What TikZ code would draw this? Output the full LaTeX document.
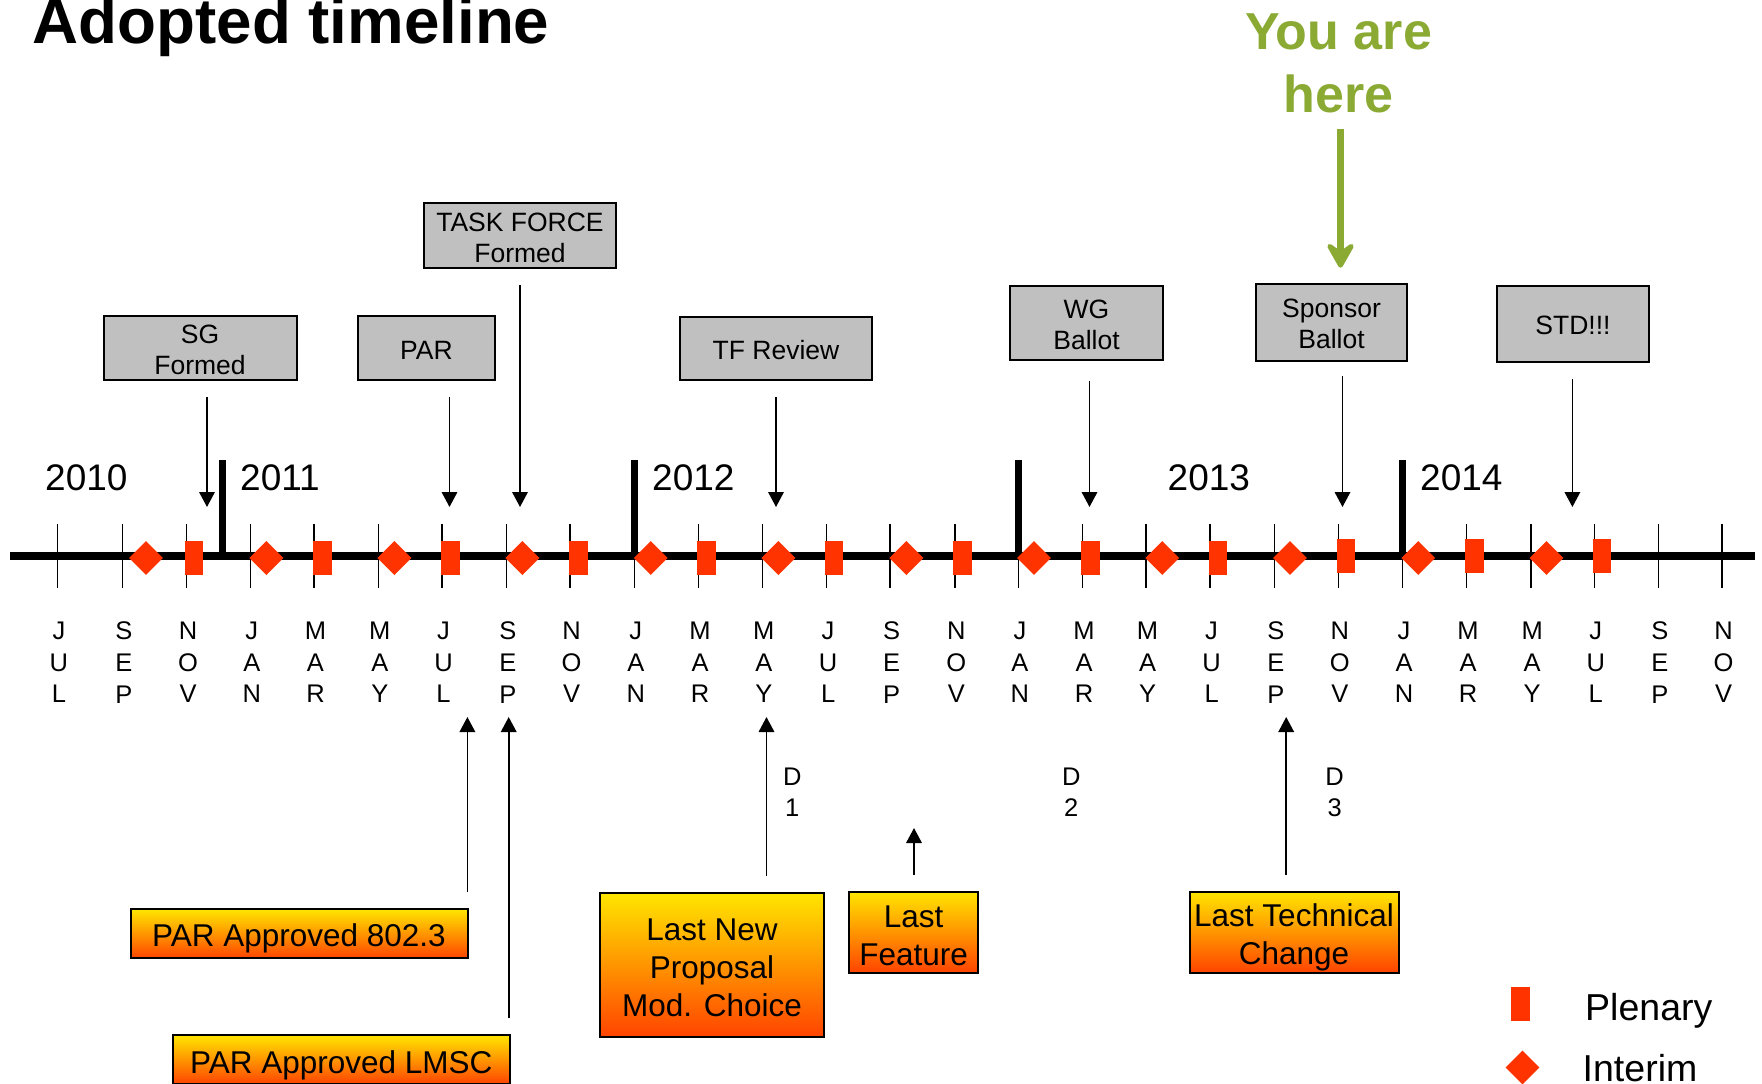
\documentclass[tikz,border=0pt]{standalone}
\usepackage{fontspec}
\setmainfont{Liberation Sans}
\usetikzlibrary{arrows.meta,shapes.geometric,calc}

\definecolor{mtgred}{RGB}{255,51,0}
\definecolor{herecol}{RGB}{138,170,51}
\definecolor{boxgray}{RGB}{192,192,192}
\definecolor{gradtop}{RGB}{255,230,0}
\definecolor{gradmid}{RGB}{255,160,0}
\definecolor{gradbot}{RGB}{255,68,0}

\tikzset{
  mtick/.style={line width=1.6pt},
  yearbar/.style={line width=7pt},
  plenary/.style={fill=mtgred, minimum width=18.5pt, minimum height=34pt, inner sep=0pt},
  interim/.style={diamond, fill=mtgred, minimum width=34pt, minimum height=34pt, inner sep=0pt},
  month/.style={align=center, inner sep=0pt, font=\fontsize{25.5}{31.7}\selectfont},
  yearlbl/.style={anchor=base west, inner sep=0pt, font=\fontsize{37}{44}\selectfont},
  legtext/.style={anchor=base west, inner sep=0pt, font=\fontsize{37.5}{44}\selectfont},
  evbox/.style={draw, line width=2pt, fill=boxgray, inner sep=0pt},
  evtext/.style={align=center, inner sep=0pt, font=\fontsize{26.5}{31.6}\selectfont},
  goalbox/.style={draw, line width=2pt, top color=gradtop, middle color=gradmid, bottom color=gradbot, inner sep=0pt},
  goaltext/.style={align=center, inner sep=0pt, font=\fontsize{31.5}{38.3}\selectfont},
  evarrow/.style={line width=1.8pt, -{Triangle[length=15pt,width=15.5pt]}, shorten <=16pt},
  herearrow/.style={line width=7.6pt, draw=herecol, -{Stealth[length=32pt,width=36pt,inset=13pt,round]}, shorten <=16pt},
}

\begin{document}
\begin{tikzpicture}[x=1pt,y=1pt,yscale=-1,xscale=1]
\useasboundingbox (0,0) rectangle (1762,1084);
\clip (0,0) rectangle (1762,1084);

% Text Node
\node[anchor=base west, inner sep=0pt, font=\fontsize{63.7}{70}\selectfont\bfseries] (title) at (32.5,43.3) {Adopted timeline};

%Main line
\draw[line width=8pt] (10,556.3) -- (1755,556.3);

%Month ticks
\draw[mtick] (57.4,524) -- (57.4,588);
\draw[mtick] (122.3,524) -- (122.3,588);
\draw[mtick] (186.6,524) -- (186.6,588);
\draw[mtick] (250.3,524) -- (250.3,588);
\draw[mtick] (314,524) -- (314,588);
\draw[mtick] (378.3,524) -- (378.3,588);
\draw[mtick] (442,524) -- (442,588);
\draw[mtick] (506.3,524) -- (506.3,588);
\draw[mtick] (570,524) -- (570,588);
\draw[mtick] (634.3,524) -- (634.3,588);
\draw[mtick] (698.6,524) -- (698.6,588);
\draw[mtick] (762.3,524) -- (762.3,588);
\draw[mtick] (826.6,524) -- (826.6,588);
\draw[mtick] (890.1,524) -- (890.1,588);
\draw[mtick] (954.8,524) -- (954.8,588);
\draw[mtick] (1018.4,524) -- (1018.4,588);
\draw[mtick] (1082.5,524) -- (1082.5,588);
\draw[mtick] (1146,524) -- (1146,588);
\draw[mtick] (1210.1,524) -- (1210.1,588);
\draw[mtick] (1274.3,524) -- (1274.3,588);
\draw[mtick] (1338.4,524) -- (1338.4,588);
\draw[mtick] (1402.5,524) -- (1402.5,588);
\draw[mtick] (1466.6,524) -- (1466.6,588);
\draw[mtick] (1530.7,524) -- (1530.7,588);
\draw[mtick] (1594.3,524) -- (1594.3,588);
\draw[mtick] (1658.4,524) -- (1658.4,588);
\draw[mtick] (1722,524) -- (1722,588);

%Year bars
\draw[yearbar] (222,460) -- (222,556.3);
\draw[yearbar] (634.3,460) -- (634.3,556.3);
\draw[yearbar] (1018,460) -- (1018,556.3);
\draw[yearbar] (1402.5,460) -- (1402.5,556.3);

%Interim meetings
\node[interim] (int1) at (146,558) {};
\node[interim] (int2) at (266.4,558) {};
\node[interim] (int3) at (394.4,558) {};
\node[interim] (int4) at (522.4,558) {};
\node[interim] (int5) at (650.7,558) {};
\node[interim] (int6) at (778.4,558) {};
\node[interim] (int7) at (906.4,558) {};
\node[interim] (int8) at (1034,558) {};
\node[interim] (int9) at (1162.3,558) {};
\node[interim] (int10) at (1290,558) {};
\node[interim] (int11) at (1418.2,558) {};
\node[interim] (int12) at (1546.5,558) {};

%Plenary meetings
\node[plenary] (pl1) at (194,558) {};
\node[plenary] (pl2) at (322.6,558) {};
\node[plenary] (pl3) at (450.6,558) {};
\node[plenary] (pl4) at (578.6,558) {};
\node[plenary] (pl5) at (706.4,558) {};
\node[plenary] (pl6) at (834,558) {};
\node[plenary] (pl7) at (962.7,558) {};
\node[plenary] (pl8) at (1090.3,558) {};
\node[plenary] (pl9) at (1218,558) {};
\node[plenary] (pl10) at (1346,556) {};
\node[plenary] (pl11) at (1474.3,556) {};
\node[plenary] (pl12) at (1602,556) {};

% Year labels
\node[yearlbl] (y2010) at (45,490) {2010};
\node[yearlbl] (y2011) at (240,490) {2011};
\node[yearlbl] (y2012) at (652,490) {2012};
\node[yearlbl] (y2013) at (1167.5,490) {2013};
\node[yearlbl] (y2014) at (1420,490) {2014};

% Month labels
\node[month] (jul10) at (58.9,662.5) {J\\U\\L};
\node[month] (sep10) at (123.8,662.5) {S\\E\\P};
\node[month] (nov10) at (188.1,662.5) {N\\O\\V};
\node[month] (jan11) at (251.8,662.5) {J\\A\\N};
\node[month] (mar11) at (315.5,662.5) {M\\A\\R};
\node[month] (may11) at (379.8,662.5) {M\\A\\Y};
\node[month] (jul11) at (443.5,662.5) {J\\U\\L};
\node[month] (sep11) at (507.8,662.5) {S\\E\\P};
\node[month] (nov11) at (571.5,662.5) {N\\O\\V};
\node[month] (jan12) at (635.8,662.5) {J\\A\\N};
\node[month] (mar12) at (700.1,662.5) {M\\A\\R};
\node[month] (may12) at (763.8,662.5) {M\\A\\Y};
\node[month] (jul12) at (828.1,662.5) {J\\U\\L};
\node[month] (sep12) at (891.6,662.5) {S\\E\\P};
\node[month] (nov12) at (956.3,662.5) {N\\O\\V};
\node[month] (jan13) at (1019.9,662.5) {J\\A\\N};
\node[month] (mar13) at (1084,662.5) {M\\A\\R};
\node[month] (may13) at (1147.5,662.5) {M\\A\\Y};
\node[month] (jul13) at (1211.6,662.5) {J\\U\\L};
\node[month] (sep13) at (1275.8,662.5) {S\\E\\P};
\node[month] (nov13) at (1339.9,662.5) {N\\O\\V};
\node[month] (jan14) at (1404,662.5) {J\\A\\N};
\node[month] (mar14) at (1468.1,662.5) {M\\A\\R};
\node[month] (may14) at (1532.2,662.5) {M\\A\\Y};
\node[month] (jul14) at (1595.8,662.5) {J\\U\\L};
\node[month] (sep14) at (1659.9,662.5) {S\\E\\P};
\node[month] (nov14) at (1723.5,662.5) {N\\O\\V};

% Draft labels
\node[month] (d1) at (792.3,792.3) {D\\1};
\node[month] (d2) at (1071.2,792.3) {D\\2};
\node[month] (d3) at (1334.6,792.3) {D\\3};

% Event boxes
\node[evbox, minimum width=193pt, minimum height=64pt] (sg) at (200,348) {};
\node[evbox, minimum width=137pt, minimum height=64pt] (par) at (426.5,348) {};
\node[evbox, minimum width=192pt, minimum height=65pt] (tf) at (520,235.5) {};
\node[evbox, minimum width=192pt, minimum height=63pt] (tfr) at (776,348.5) {};
\node[evbox, minimum width=153pt, minimum height=74pt] (wg) at (1086.5,323) {};
\node[evbox, minimum width=151pt, minimum height=77pt] (sb) at (1331.5,322.5) {};
\node[evbox, minimum width=152pt, minimum height=76pt] (std) at (1573,324) {};
\node[evtext] (sgTxt) at ($(sg)+(0,2)$) {SG\\Formed};
\node[evtext] (parTxt) at ($(par)+(0,2)$) {PAR};
\node[evtext] (tfTxt) at ($(tf)+(0,2.5)$) {TASK FORCE\\Formed};
\node[evtext] (tfrTxt) at ($(tfr)+(0,2)$) {TF Review};
\node[evtext] (wgTxt) at ($(wg)+(0,2)$) {WG\\Ballot};
\node[evtext] (sbTxt) at ($(sb)+(0,1.5)$) {Sponsor\\Ballot};
\node[evtext] (stdTxt) at ($(std)+(0,1)$) {STD!!!};

%Arrows down
\coordinate (sgTip) at (207,507);
\coordinate (parTip) at (449.5,507);
\coordinate (tfTip) at (520,507);
\coordinate (tfrTip) at (776,507);
\coordinate (wgTip) at (1089.5,507);
\coordinate (sbTip) at (1342.5,507);
\coordinate (stdTip) at (1572.4,507);
\draw[evarrow] (sg.south -| sgTip) -- (sgTip);
\draw[evarrow] (par.south -| parTip) -- (parTip);
\draw[evarrow] (tf.south -| tfTip) -- (tfTip);
\draw[evarrow] (tfr.south -| tfrTip) -- (tfrTip);
\draw[evarrow, shorten <=20pt] (wg.south -| wgTip) -- (wgTip);
\draw[evarrow, shorten <=14pt] (sb.south -| sbTip) -- (sbTip);
\draw[evarrow] (std.south -| stdTip) -- (stdTip);

% Goal boxes
\node[goalbox, minimum width=337pt, minimum height=49pt] (pa8023) at (299,933.8) {};
\node[goalbox, minimum width=337pt, minimum height=49pt] (palmsc) at (341.3,1059.5) {};
\node[goalbox, minimum width=224pt, minimum height=144pt] (lnp) at (712,964.5) {};
\node[goalbox, minimum width=129pt, minimum height=81pt] (lf) at (913.7,932.2) {};
\node[goalbox, minimum width=209pt, minimum height=81pt] (ltc) at (1294,932.2) {};
\node[goaltext] (pa8023Txt) at ($(pa8023)+(0,4.5)$) {PAR Approved 802.3};
\node[goaltext] (palmscTxt) at ($(palmsc)+(0,5.5)$) {PAR Approved LMSC};
\node[goaltext] (lnpTxt) at ($(lnp)+(0,3.5)$) {Last New\\Proposal\\Mod. Choice};
\node[goaltext] (lfTxt) at ($(lf)+(0,3.5)$) {Last\\Feature};
\node[goaltext] (ltcTxt) at ($(ltc)+(0,5)$) {Last Technical\\Change};

%Arrows up
\coordinate (pa8023Tip) at (467.4,717);
\coordinate (palmscTip) at (508.7,717);
\coordinate (lnpTip) at (766.5,717);
\coordinate (lfTip) at (914,828);
\coordinate (ltcTip) at (1286.2,717);
\draw[evarrow] (pa8023.north -| pa8023Tip) -- (pa8023Tip);
\draw[evarrow] (palmsc.north -| palmscTip) -- (palmscTip);
\draw[evarrow] (lnp.north -| lnpTip) -- (lnpTip);
\draw[evarrow] (lf.north -| lfTip) -- (lfTip);
\draw[evarrow] (ltc.north -| ltcTip) -- (ltcTip);

% You are here
\node[align=center, inner sep=0pt, text=herecol, font=\fontsize{52}{63}\selectfont\bfseries] (youhere) at (1338.5,63) {You are\\here};
\coordinate (hereTip) at (1340.5,267.7);
\draw[herearrow] (youhere.south -| hereTip) -- (hereTip);

% Legend
\node[plenary] (legpl) at (1520.3,1004) {};
\node[legtext] (legpltxt) at (1585,1020.7) {Plenary};
\node[interim] (legint) at (1522.5,1067.5) {};
\node[legtext] (leginttxt) at (1582.5,1081.7) {Interim};

\end{tikzpicture}
\end{document}
